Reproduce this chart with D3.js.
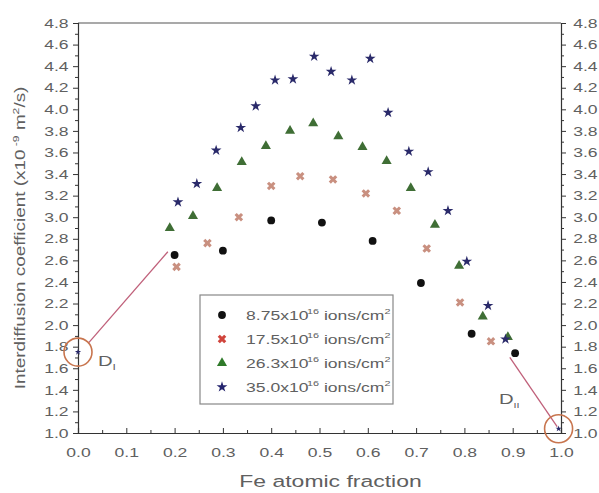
<!DOCTYPE html>
<html>
<head>
<meta charset="utf-8">
<script src="https://cdn.jsdelivr.net/npm/d3@7"></script>
<style>
  body { margin: 0; background: #fff; }
  #chart { width: 599px; height: 493px; }
  text { font-family: "Liberation Sans", Arial, sans-serif; fill: #606060; }
</style>
</head>
<body>
<div id="chart"></div>
<script>
// Fe atomic fraction vs interdiffusion coefficient, one array pair per fluence
const blackX = [0.20, 0.30, 0.40, 0.505, 0.61, 0.71, 0.815, 0.905];
const blackY = [2.65, 2.69, 2.97, 2.95, 2.78, 2.39, 1.92, 1.74];

const redX = [0.204, 0.268, 0.333, 0.40, 0.46, 0.528, 0.596, 0.66, 0.722, 0.791, 0.855];
const redY = [2.54, 2.76, 3.00, 3.29, 3.38, 3.35, 3.22, 3.06, 2.71, 2.21, 1.85];

const greenX = [0.19, 0.238, 0.288, 0.339, 0.389, 0.439, 0.487, 0.539, 0.589, 0.639, 0.689, 0.739, 0.789, 0.838, 0.89];
const greenY = [2.90, 3.01, 3.27, 3.51, 3.66, 3.80, 3.87, 3.75, 3.65, 3.52, 3.27, 2.93, 2.55, 2.08, 1.89];

const blueX = [0.207, 0.246, 0.286, 0.337, 0.368, 0.408, 0.445, 0.489, 0.524, 0.567, 0.605, 0.642, 0.685, 0.725, 0.766, 0.805, 0.849, 0.885];
const blueY = [3.14, 3.31, 3.62, 3.83, 4.03, 4.27, 4.28, 4.49, 4.35, 4.27, 4.47, 3.97, 3.61, 3.42, 3.06, 2.59, 2.18, 1.87];

const seriesNames = ["8.75x10", "17.5x10", "26.3x10", "35.0x10"];

const xTicks = [0, 0.1, 0.2, 0.3, 0.4, 0.5, 0.6, 0.7, 0.8, 0.9, 1.0];
const yTicks = [1.0, 1.2, 1.4, 1.6, 1.8, 2.0, 2.2, 2.4, 2.6, 2.8, 3.0, 3.2, 3.4, 3.6, 3.8, 4.0, 4.2, 4.4, 4.6, 4.8];

// end points D_I and D_II with their arrow lines
const endX = [0.0, 0.995];
const endY = [1.75, 1.04];
const endLabels = ["I", "II"];
const lineX1 = [0.021, 0.894];
const lineY1 = [1.83, 1.70];
const lineX2 = [0.186, 0.992];
const lineY2 = [2.68, 1.06];

const W = 599, H = 493;
const SX = 1.35; // text in the picture is stretched horizontally

const svg = d3.select("#chart").append("svg")
  .attr("width", W).attr("height", H);

const x = d3.scaleLinear().domain([0, 1]).range([78, 561]);
const y = d3.scaleLinear().domain([1, 4.8]).range([433, 23]);

const axisColor = "#333";

function styleAxis(g) {
  g.select(".domain").attr("stroke", axisColor).attr("stroke-width", 1.2);
  g.selectAll(".tick line").attr("stroke", axisColor);
  g.selectAll("text").attr("fill", "#606060").style("font-size", "13px");
}

// minor ticks
const xMinor = d3.range(0.05, 1, 0.1);
const yMinor = d3.range(1.1, 4.8, 0.2);

// bottom axis, ticks pointing inward
const gx = svg.append("g").attr("transform", `translate(0,${y(1)})`)
  .call(d3.axisBottom(x).tickValues(xTicks).tickSize(-5).tickPadding(15)
    .tickFormat(d3.format(".1f")));
styleAxis(gx);
gx.selectAll(".tick text").attr("transform", `scale(${SX},1)`).attr("x", 0);
svg.append("g").attr("transform", `translate(0,${y(1)})`)
  .call(d3.axisBottom(x).tickValues(xMinor).tickSize(-3).tickFormat(""))
  .call(g => g.select(".domain").remove())
  .call(g => g.selectAll("line").attr("stroke", axisColor));

// top frame
svg.append("line").attr("x1", x(0)).attr("x2", x(1))
  .attr("y1", y(4.8)).attr("y2", y(4.8))
  .attr("stroke", "#555").attr("stroke-width", 1.2);

// left axis
const gy = svg.append("g").attr("transform", `translate(${x(0)},0)`)
  .call(d3.axisLeft(y).tickValues(yTicks).tickSize(5).tickPadding(2)
    .tickFormat(d3.format(".1f")));
styleAxis(gy);
gy.selectAll(".tick text").attr("transform", `scale(${SX},1)`);
svg.append("g").attr("transform", `translate(${x(0)},0)`)
  .call(d3.axisLeft(y).tickValues(yMinor).tickSize(3).tickFormat(""))
  .call(g => g.select(".domain").remove())
  .call(g => g.selectAll("line").attr("stroke", axisColor));

// right axis
const gr = svg.append("g").attr("transform", `translate(${x(1)},0)`)
  .call(d3.axisRight(y).tickValues(yTicks).tickSize(5).tickPadding(4)
    .tickFormat(d3.format(".1f")));
styleAxis(gr);
gr.selectAll(".tick text").attr("transform", `scale(${SX},1)`);
svg.append("g").attr("transform", `translate(${x(1)},0)`)
  .call(d3.axisRight(y).tickValues(yMinor).tickSize(3).tickFormat(""))
  .call(g => g.select(".domain").remove())
  .call(g => g.selectAll("line").attr("stroke", axisColor));

// axis titles
svg.append("text")
  .attr("transform", `translate(${(x(0) + x(1)) / 2 + 11},487) scale(${SX},1)`)
  .attr("text-anchor", "middle")
  .style("font-size", "17px")
  .text("Fe atomic fraction");

const yt = svg.append("text")
  .attr("transform", `translate(25,${(y(1) + y(4.8)) / 2 + 10}) rotate(-90) scale(${SX},1)`)
  .attr("text-anchor", "middle")
  .style("font-size", "14px");
yt.append("tspan").text("Interdiffusion coefficient (x10");
yt.append("tspan").attr("dy", -6).style("font-size", "9px").text(" -9");
yt.append("tspan").attr("dy", 6).text(" m");
yt.append("tspan").attr("dy", -6).style("font-size", "9px").text("2");
yt.append("tspan").attr("dy", 6).text("/s)");

// marker shapes
const symCircle = d3.symbol().type(d3.symbolCircle).size(48);
const symCross = d3.symbol().type(d3.symbolCross).size(46);
const symTri = d3.symbol().type(d3.symbolTriangle).size(44);
const symStar = d3.symbol().type(d3.symbolStar).size(36);

const series = [
  { xs: blackX, ys: blackY, sym: symCircle, fill: "#111", rot: 0, legendFill: "#111" },
  { xs: redX, ys: redY, sym: symCross, fill: "#c99080", rot: 45, legendFill: "#d0443c" },
  { xs: greenX, ys: greenY, sym: symTri, fill: "#3f6e35", rot: 0, legendFill: "#2f7a2a" },
  { xs: blueX, ys: blueY, sym: symStar, fill: "#2a2a6a", rot: 0, legendFill: "#24246e" }
];

series.forEach(s => {
  svg.append("g").selectAll("path")
    .data(s.xs.map((v, i) => [v, s.ys[i]]))
    .join("path")
    .attr("d", s.sym())
    .attr("fill", s.fill)
    .attr("transform", d => `translate(${x(d[0])},${y(d[1])}) rotate(${s.rot})`);
});

// annotation lines and circles
const lineColor = "#c0607a";
endX.forEach((v, i) => {
  svg.append("line")
    .attr("x1", x(lineX1[i])).attr("y1", y(lineY1[i]))
    .attr("x2", x(lineX2[i])).attr("y2", y(lineY2[i]))
    .attr("stroke", lineColor).attr("stroke-width", 1.3);
  svg.append("circle")
    .attr("cx", x(v)).attr("cy", y(endY[i])).attr("r", 14)
    .attr("fill", "none").attr("stroke", "#c8754e").attr("stroke-width", 1.6);
  svg.append("path")
    .attr("d", d3.symbol().type(d3.symbolStar).size(12)())
    .attr("fill", "#2a2a6a")
    .attr("transform", `translate(${x(v)},${y(endY[i])})`);
});

const dI = svg.append("text")
  .attr("transform", `translate(98,366) scale(${SX},1)`)
  .style("font-size", "15px");
dI.append("tspan").text("D");
dI.append("tspan").attr("dy", 4).style("font-size", "9px").text(endLabels[0]);

const dII = svg.append("text")
  .attr("transform", `translate(499,404) scale(${SX},1)`)
  .style("font-size", "15px");
dII.append("tspan").text("D");
dII.append("tspan").attr("dy", 4).style("font-size", "8px").text(endLabels[1]);

// legend
const legend = svg.append("g");
legend.append("rect")
  .attr("x", 200).attr("y", 295).attr("width", 193).attr("height", 109)
  .attr("fill", "#fff").attr("stroke", "#888").attr("stroke-width", 1.2);

series.forEach((s, i) => {
  const ly = 315 + i * 24;
  legend.append("path")
    .attr("d", s.sym())
    .attr("fill", s.legendFill)
    .attr("transform", `translate(222,${ly}) rotate(${s.rot})`);
  const t = legend.append("text")
    .attr("transform", `translate(246,${ly + 5}) scale(${SX},1)`)
    .style("font-size", "13px");
  t.append("tspan").text(seriesNames[i]);
  t.append("tspan").attr("dy", -6).attr("dx", -1).style("font-size", "8px").text("16");
  t.append("tspan").attr("dy", 6).text(" ions/cm");
  t.append("tspan").attr("dy", -6).style("font-size", "8px").text("2");
});
</script>
</body>
</html>
